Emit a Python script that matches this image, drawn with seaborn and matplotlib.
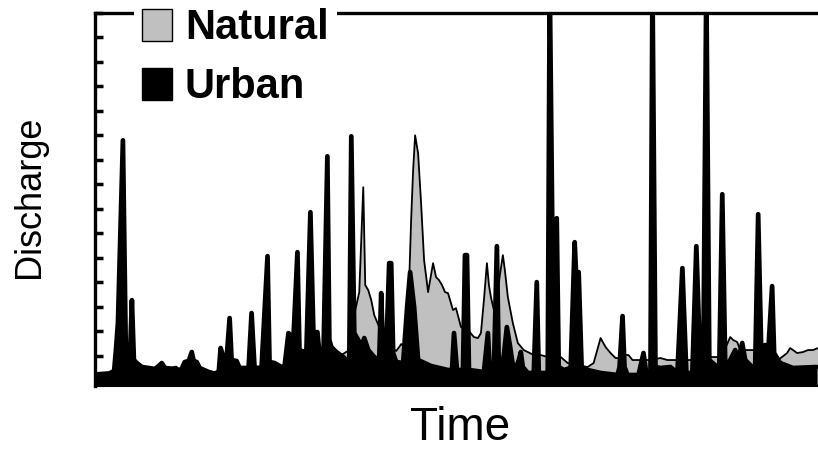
import numpy as np
import pandas as pd
import matplotlib
matplotlib.use("Agg")
import matplotlib.pyplot as plt
from matplotlib.patches import Patch
import seaborn as sns

# ---- data (day index, discharge in arbitrary units) ----
urban_day = [0, 14, 19, 21, 23, 28, 31, 34, 35, 37, 39, 42, 47, 54, 60, 65, 67, 70, 77, 81,
             85, 90, 94, 97, 99, 102, 105, 114, 120, 124, 126, 129, 132, 135, 137, 142, 145, 154, 157, 160,
             167, 173, 175, 180, 187, 190, 194, 199, 203, 205, 210, 212, 216, 219, 223, 225, 229, 233, 235, 237,
             242, 249, 252, 255, 257, 260, 264, 267, 270, 274, 280, 285, 287, 289, 292, 295, 297, 299, 302, 309,
             313, 316, 320, 324, 337, 354, 358, 360, 363, 369, 371, 373, 375, 390, 394, 396, 400, 403, 405, 407,
             410, 413, 416, 419, 422, 425, 427, 429, 434, 440, 443, 445, 454, 456, 460, 463, 465, 470, 477, 481,
             483, 485, 488, 494, 507, 524, 526, 529, 531, 534, 545, 550, 553, 557, 559, 562, 567, 577, 584, 589,
             593, 599, 603, 607, 610, 613, 616, 624, 626, 629, 632, 637, 642, 645, 649, 652, 659, 662, 665, 668,
             672, 675, 679, 681, 687, 700, 724]
urban_q = [5, 6, 7, 30, 57, 240, 22, 19, 20, 80, 20, 17, 13, 12, 11, 15, 17, 12, 11, 12,
           7, 18, 19, 28, 19, 18, 12, 8, 6, 7, 32, 22, 22, 62, 20, 19, 12, 12, 67, 12,
           12, 124, 18, 17, 13, 13, 47, 42, 128, 30, 28, 30, 168, 47, 48, 27, 20, 224, 40, 33,
           28, 23, 20, 20, 244, 47, 40, 33, 42, 30, 23, 20, 87, 20, 27, 117, 117, 27, 18, 17,
           73, 108, 73, 20, 14, 10, 10, 47, 10, 10, 125, 125, 10, 8, 47, 8, 8, 134, 8, 10,
           25, 53, 35, 15, 12, 20, 28, 13, 7, 7, 98, 7, 7, 400, 13, 162, 13, 10, 12, 138,
           93, 108, 12, 10, 7, 5, 13, 64, 13, 5, 5, 27, 5, 5, 400, 13, 12, 13, 7, 112,
           7, 7, 134, 13, 13, 400, 20, 13, 13, 186, 13, 20, 30, 20, 37, 20, 13, 13, 166, 33,
           35, 27, 94, 27, 17, 12, 13]

natural_day = [0, 14, 22, 29, 37, 47, 60, 67, 81, 92, 97, 107, 120, 127, 135, 147, 157, 173, 187, 203,
               216, 227, 237, 247, 255, 261, 265, 269, 271, 274, 277, 280, 285, 290, 297, 302, 305, 307, 310, 313,
               317, 319, 321, 324, 327, 330, 334, 339, 342, 345, 348, 351, 354, 359, 362, 367, 374, 380, 384, 387,
               390, 393, 395, 397, 400, 403, 406, 409, 411, 414, 419, 424, 430, 434, 440, 447, 454, 460, 467, 474,
               494, 500, 507, 512, 517, 522, 525, 530, 535, 539, 547, 557, 567, 574, 600, 614, 624, 630, 637, 640,
               644, 647, 654, 660, 667, 680, 685, 694, 697, 700, 704, 710, 715, 720, 725]
natural_q = [7, 8, 12, 14, 14, 13, 12, 14, 12, 11, 14, 10, 8, 11, 13, 12, 13, 14, 14, 15,
             17, 19, 23, 25, 30, 70, 88, 193, 95, 90, 80, 65, 53, 43, 33, 29, 33, 36, 33, 35,
             160, 210, 245, 227, 177, 120, 88, 117, 103, 100, 95, 88, 87, 70, 72, 53, 50, 43, 42, 47,
             80, 117, 95, 83, 70, 80, 105, 125, 110, 83, 57, 37, 30, 28, 25, 25, 23, 20, 23, 17,
             13, 17, 42, 33, 27, 22, 22, 25, 25, 20, 20, 20, 22, 20, 20, 23, 23, 27, 43, 40,
             38, 30, 30, 30, 33, 23, 20, 27, 32, 30, 27, 28, 30, 30, 32]

ytick_vals = [24.5 * k for k in range(0, 16)]
xtick_vals = list(range(0, 726, 8))
legend_labels = ["Natural", "Urban"]
x_label = "Time"
y_label = "Discharge"

nat = pd.DataFrame({"day": natural_day, "q": natural_q})
urb = pd.DataFrame({"day": urban_day, "q": urban_q})

sns.set_style("white")
plt.rcParams["font.family"] = ["Liberation Sans", "DejaVu Sans"]
plt.rcParams["text.color"] = "black"
plt.rcParams["axes.labelcolor"] = "black"

fig = plt.figure(figsize=(8.18, 4.51), dpi=100)
ax = fig.add_axes([95 / 818, 65 / 451, 1 - 95 / 818, 373 / 451])

base = -20
ax.fill_between(nat["day"], nat["q"], base, color="#c0c0c0", lw=0, zorder=1)
sns.lineplot(data=nat, x="day", y="q", color="black", lw=1.3, ax=ax, zorder=2, sort=False)
ax.fill_between(urb["day"], urb["q"], base, color="black", lw=0, zorder=3)
sns.lineplot(data=urb, x="day", y="q", color="black", lw=3.4, ax=ax, zorder=4, sort=False)

ax.set_xlim(0, 725)
ax.set_ylim(-6, 367)

ax.set_yticks(ytick_vals)
ax.set_yticklabels([])
ax.set_xticks(xtick_vals)
ax.set_xticklabels([])
ax.tick_params(axis="y", direction="in", length=6, width=2.5, color="black", left=True)
ax.tick_params(axis="x", direction="in", length=1.5, width=1, color="white", bottom=True)

for s in ["left", "top"]:
    ax.spines[s].set_linewidth(2.4)
    ax.spines[s].set_color("black")
ax.spines["bottom"].set_linewidth(1.5)
ax.spines["bottom"].set_color("black")
ax.spines["right"].set_visible(False)

ax.set_xlabel(x_label, fontsize=33, color="black")
ax.set_ylabel(y_label, fontsize=26, color="black")
ax.xaxis.set_label_coords(460 / 818, (451 - 428) / 451, transform=fig.transFigure)
ax.yaxis.set_label_coords(30 / 818, (451 - 197) / 451, transform=fig.transFigure)
ax.xaxis.label.set_va("center")
ax.yaxis.label.set_va("center")

handles = [Patch(facecolor="#c0c0c0", edgecolor="black", lw=1.0, label=legend_labels[0]),
           Patch(facecolor="black", edgecolor="black", lw=1.0, label=legend_labels[1])]
leg = ax.legend(handles=handles, loc="upper left", bbox_to_anchor=(134 / 818, 1.0),
                bbox_transform=fig.transFigure, frameon=True, framealpha=1, fancybox=False,
                facecolor="white", edgecolor="white",
                prop=dict(family="Liberation Sans", weight="bold", size=30),
                handlelength=0.72, handleheight=0.8, handletextpad=0.3,
                labelspacing=0.45, borderpad=0.2, borderaxespad=0)
leg.get_frame().set_linewidth(0)
leg.set_zorder(10)
for t in leg.get_texts():
    t.set_color("black")

fig.savefig("out.png", dpi=100)
